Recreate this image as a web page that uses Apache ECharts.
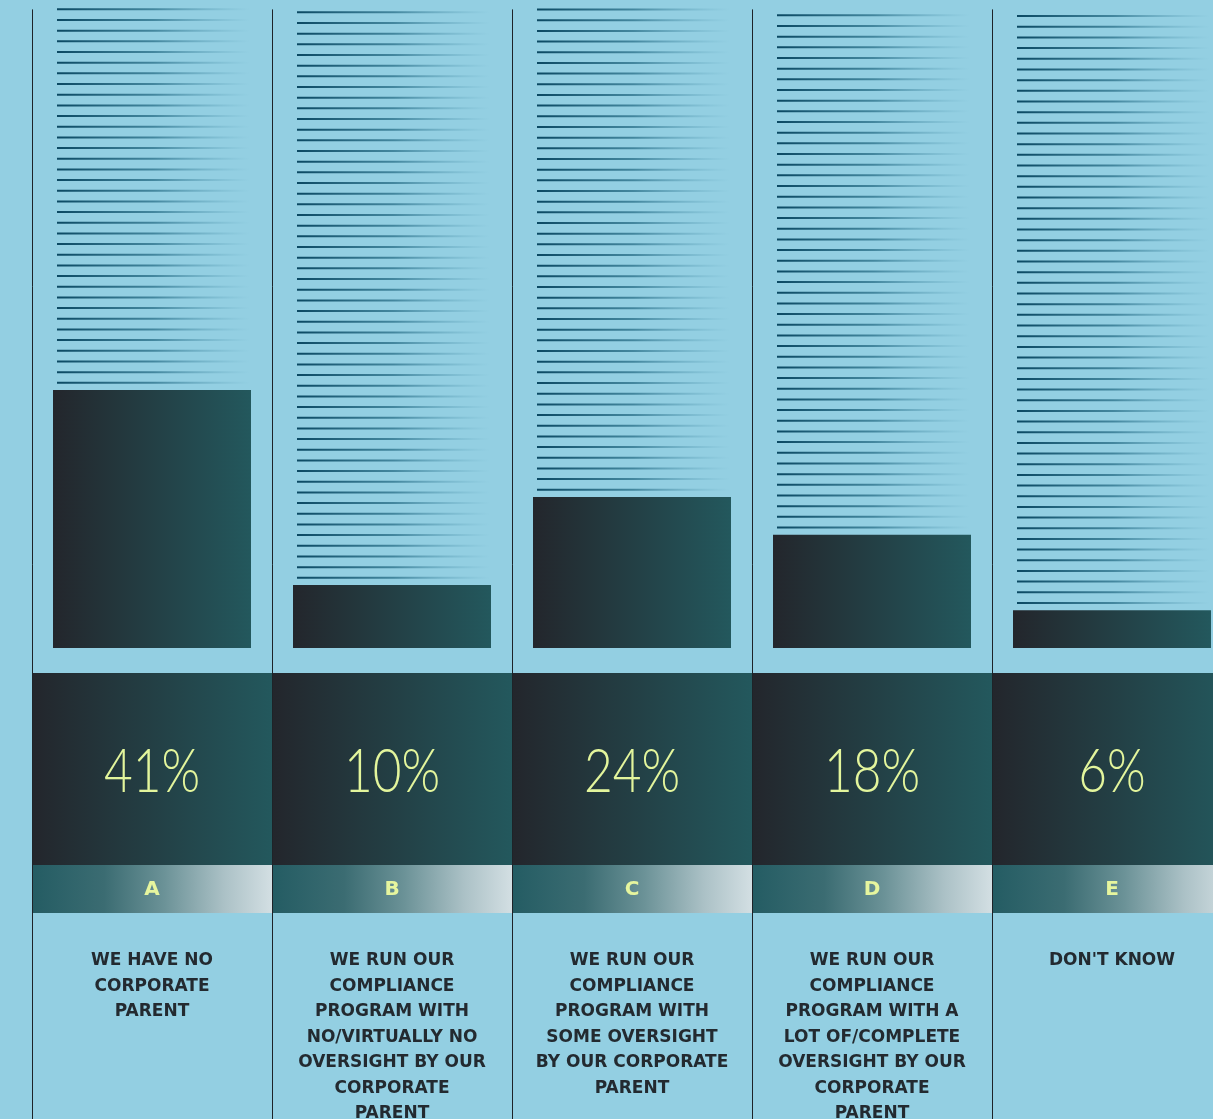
<!DOCTYPE html>
<html><head><meta charset="utf-8">
<style>html,body{margin:0;padding:0;background:#93cfe2;overflow:hidden;}#c{width:1213px;height:1119px;}</style>
<script src="https://cdn.jsdelivr.net/npm/echarts@6/dist/echarts.min.js"></script>
</head><body><div id="c"></div>
<script>
const letters = ['A', 'B', 'C', 'D', 'E'];
const descriptions = [
  'WE HAVE NO\nCORPORATE\nPARENT',
  'WE RUN OUR\nCOMPLIANCE\nPROGRAM WITH\nNO/VIRTUALLY NO\nOVERSIGHT BY OUR\nCORPORATE\nPARENT',
  'WE RUN OUR\nCOMPLIANCE\nPROGRAM WITH\nSOME OVERSIGHT\nBY OUR CORPORATE\nPARENT',
  'WE RUN OUR\nCOMPLIANCE\nPROGRAM WITH A\nLOT OF/COMPLETE\nOVERSIGHT BY OUR\nCORPORATE\nPARENT',
  "DON'T KNOW"
];
const shares = [41, 10, 24, 18, 6];
const yMax = 102;

const chart = echarts.init(document.getElementById('c'), null, {renderer: 'canvas'});

function hGrad(x0, x1, stops) {
  return new echarts.graphic.LinearGradient(x0, 0, x1, 0, stops, true);
}

function renderColumn(params, api) {
  const i = api.value(0);
  const v = api.value(1);
  const topPt = api.coord([i, v]);
  const basePt = api.coord([i, 0]);
  const cx = topPt[0];
  const band = api.size([1, 0])[0];
  const left = cx - band / 2;
  const base = basePt[1];
  const gridTop = params.coordSys.y;
  const children = [];
  // stripes above bar
  const sx0 = cx - 95, sx1 = cx + 98;
  const sFill = hGrad(sx0, sx1, [
    {offset: 0, color: 'rgba(10,72,98,1)'},
    {offset: 0.5, color: 'rgba(40,110,135,0.75)'},
    {offset: 1, color: 'rgba(90,160,185,0)'}
  ]);
  for (let y = topPt[1] - 7.3; y >= gridTop + 2; y -= 10.67) {
    children.push({type: 'rect', shape: {x: sx0, y: y - 1, width: sx1 - sx0, height: 2}, style: {fill: sFill}});
  }
  // dark band
  children.push({type: 'rect', shape: {x: left, y: base + 25, width: band, height: 192},
    style: {fill: hGrad(left, left + band, [{offset: 0, color: '#23262c'}, {offset: 1, color: '#23585d'}])}});
  children.push({type: 'text', x: cx, y: base + 124, scaleX: 0.8, originX: 0, style: {
    text: shares[i] + '%', fill: '#e3f59c', fontSize: 62, fontWeight: 300, fontFamily: 'Lato',
    align: 'center', verticalAlign: 'middle'}});
  // letter band
  children.push({type: 'rect', shape: {x: left, y: base + 217, width: band, height: 48},
    style: {fill: hGrad(left, left + band, [
      {offset: 0, color: '#245c63'}, {offset: 0.3, color: '#3b6c72'}, {offset: 0.55, color: '#6b9297'},
      {offset: 0.8, color: '#abc1c6'}, {offset: 1, color: '#d3dfe3'}])}});
  children.push({type: 'text', x: cx, y: base + 242, style: {
    text: letters[i], fill: '#e6f59e', fontSize: 20, fontWeight: 700, fontFamily: 'DejaVu Sans',
    align: 'center', verticalAlign: 'middle'}});
  // separator
  children.push({type: 'line', shape: {x1: Math.round(left) + 0.5, y1: gridTop + 3, x2: Math.round(left) + 0.5, y2: 1119},
    style: {stroke: '#1e2328', lineWidth: 1}, z2: 10});
  return {type: 'group', children: children};
}

chart.setOption({
  backgroundColor: '#93cfe2',
  animation: false,
  grid: {left: 32, top: 6.4, width: 1200, height: 641.6, outerBoundsMode: 'none', containLabel: false},
  xAxis: {
    type: 'category',
    data: descriptions,
    axisLine: {show: false},
    axisTick: {show: false},
    axisLabel: {
      interval: 0, margin: 300, color: '#232a30', fontSize: 17, fontWeight: 'bold',
      fontFamily: 'DejaVu Sans', lineHeight: 25.5, align: 'center', hideOverlap: false
    }
  },
  yAxis: {type: 'value', min: 0, max: yMax, show: false, splitLine: {show: false}},
  series: [
    {
      type: 'custom',
      clip: false,
      z: 1,
      data: shares.map((v, i) => [i, v]),
      encode: {x: 0, y: 1},
      renderItem: renderColumn,
      silent: true
    },
    {
      type: 'bar',
      z: 3,
      data: shares,
      barWidth: 198,
      itemStyle: {color: new echarts.graphic.LinearGradient(0, 0, 1, 0, [
        {offset: 0, color: '#23262c'}, {offset: 1, color: '#23585d'}])}
    }
  ]
});
</script></body></html>
